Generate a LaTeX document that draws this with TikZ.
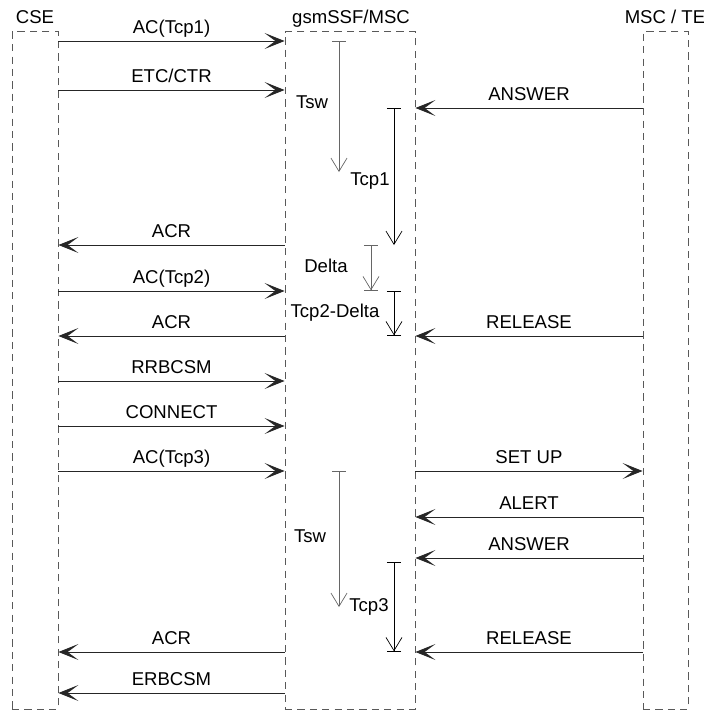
\documentclass[tikz,border=0pt]{standalone}
\usepackage{fontspec}
\setmainfont{Liberation Sans}
\usetikzlibrary{arrows.meta}
\begin{document}
\begin{tikzpicture}[
	x=0.025cm, y=-0.025cm,
	every node/.style={ font=\fontsize{13.2}{15}\selectfont },
	entity/.style={ draw=black!65, dash pattern=on 0.18cm off 0.13cm, line width=0.6pt, inner sep=0pt, minimum height=16.925cm },
	msg/.style={ draw=black!85, line width=0.6pt, -{Stealth[length=0.5cm,width=0.4cm,inset=0.27cm]} },
	tmr/.style={ line width=0.5pt, {Bar[width=0.35cm]}-{Straight Barb[length=0.33cm,width=0.4cm]} },
	tmrbar/.style={ line width=0.5pt, {Bar[width=0.35cm]}-{Straight Barb[length=0.33cm,width=0.4cm]Bar[width=0.35cm]} },
	lbl/.style={ anchor=base, inner sep=0pt, yshift=0.18cm },
	txt/.style={ anchor=base, inner sep=0pt }
]
\useasboundingbox (0,0) rectangle (704,713);

\node at (35,370.5) (cse) [entity, minimum width=1.15cm] {};
\node at (350,370.5) (ssf) [entity, minimum width=3.25cm] {};
\node at (665.5,370.5) (te) [entity, minimum width=1.125cm] {};
\node at (35,23) (csename) [txt] {CSE};
\node at (351,23) (ssfname) [txt] {gsmSSF/MSC};
\node at (665,23) (tename) [txt] {MSC / TE};

\draw[msg] (cse.east |- 0,41) to node[lbl] {AC(Tcp1)} (ssf.west |- 0,41);
\draw[msg] (cse.east |- 0,90) to node[lbl] {ETC/CTR} (ssf.west |- 0,90);
\draw[msg] (te.west |- 0,108) to node[lbl] {ANSWER} (ssf.east |- 0,108);
\draw[msg] (ssf.west |- 0,245) to node[lbl] {ACR} (cse.east |- 0,245);
\draw[msg] (cse.east |- 0,291) to node[lbl] {AC(Tcp2)} (ssf.west |- 0,291);
\draw[msg] (ssf.west |- 0,336) to node[lbl] {ACR} (cse.east |- 0,336);
\draw[msg] (te.west |- 0,336) to node[lbl] {RELEASE} (ssf.east |- 0,336);
\draw[msg] (cse.east |- 0,381) to node[lbl] {RRBCSM} (ssf.west |- 0,381);
\draw[msg] (cse.east |- 0,426) to node[lbl] {CONNECT} (ssf.west |- 0,426);
\draw[msg] (cse.east |- 0,471) to node[lbl] {AC(Tcp3)} (ssf.west |- 0,471);
\draw[msg] (ssf.east |- 0,471) to node[lbl] {SET UP} (te.west |- 0,471);
\draw[msg] (te.west |- 0,517) to node[lbl] {ALERT} (ssf.east |- 0,517);
\draw[msg] (te.west |- 0,558) to node[lbl] {ANSWER} (ssf.east |- 0,558);
\draw[msg] (te.west |- 0,652) to node[lbl] {RELEASE} (ssf.east |- 0,652);
\draw[msg] (ssf.west |- 0,652) to node[lbl] {ACR} (cse.east |- 0,652);
\draw[msg] (ssf.west |- 0,693) to node[lbl] {ERBCSM} (cse.east |- 0,693);

% timers
\coordinate (tsw1s) at (339,41);
\coordinate (tsw1e) at (339,172);
\draw[tmr, black!60] (tsw1s) to (tsw1e);
\node at (312,108) (tsw1) [txt] {Tsw};

\coordinate (tcp1s) at (394,108);
\coordinate (tcp1e) at (394,245);
\draw[tmr] (tcp1s) to (tcp1e);
\node at (370,185) (tcp1) [txt] {Tcp1};

\coordinate (delts) at (371,245);
\coordinate (delte) at (371,291);
\draw[tmrbar, black!60] (delts) to (delte);
\node at (326,272) (delta) [txt] {Delta};

\coordinate (tcp2s) at (394,291);
\coordinate (tcp2e) at (394,336);
\draw[tmrbar] (tcp2s) to (tcp2e);
\node at (335,317) (tcp2) [txt] {Tcp2-Delta};

\coordinate (tsw2s) at (339,471);
\coordinate (tsw2e) at (339,607);
\draw[tmr, black!60] (tsw2s) to (tsw2e);
\node at (310,542) (tsw2) [txt] {Tsw};

\coordinate (tcp3s) at (394,562);
\coordinate (tcp3e) at (394,652);
\draw[tmrbar] (tcp3s) to (tcp3e);
\node at (369,611) (tcp3) [txt] {Tcp3};

\end{tikzpicture}
\end{document}
